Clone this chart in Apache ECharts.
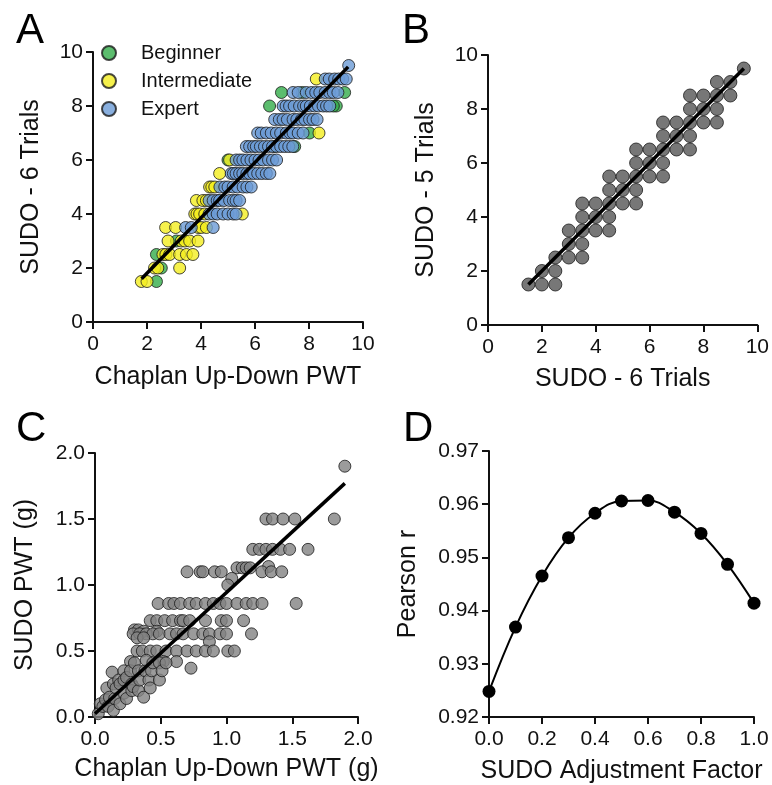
<!DOCTYPE html>
<html>
<head>
<meta charset="utf-8">
<script src="https://cdn.jsdelivr.net/npm/echarts@6/dist/echarts.min.js"></script>
<style>
html,body{margin:0;padding:0;background:#fff;}
#chart{width:772px;height:785px;}
</style>
</head>
<body>
<div id="chart"></div>
<script>
// ---------- Panel A data (Chaplan vs SUDO-6) ----------
const beginnerPoints = [
  [2.35,1.5],[2.53,2.0],[2.35,2.5],[3.09,3.0],[5.0,6.0],[7.47,6.5],[6.72,6.5],
  [8.02,7.0],[6.54,8.0],[9.01,8.0],[8.9,8.0],[6.98,8.5],[7.75,8.5],[9.32,8.5]
];
const intermediatePoints = [
  [1.79,1.5],[2.0,1.5],
  [2.28,2.0],[2.4,2.0],[3.21,2.0],
  [2.59,2.5],[2.7,2.5],[2.84,2.5],[3.21,2.5],[3.46,2.5],[3.7,2.5],
  [2.78,3.0],[3.27,3.0],[3.4,3.0],[3.58,3.0],[3.89,3.0],
  [2.69,3.5],[3.06,3.5],[3.9,3.5],[4.01,3.5],[4.2,3.5],
  [3.77,4.0],[3.85,4.0],[3.95,4.0],[4.14,4.0],[5.53,4.0],
  [3.83,4.5],[4.07,4.5],[4.2,4.5],
  [4.32,5.0],[4.4,5.0],[4.51,5.0],
  [4.69,5.5],
  [5.06,6.0],
  [8.37,7.0],
  [8.27,9.0]
];
const expertPoints = [
  [3.43,3.5],[3.64,3.5],[4.45,3.5],
  [4.3,4.0],[4.45,4.0],[4.6,4.0],[4.82,4.0],[5.0,4.0],[5.19,4.0],[5.3,4.0],
  [4.3,4.5],[4.45,4.5],[4.6,4.5],[4.69,4.5],[4.85,4.5],[5.06,4.5],[5.2,4.5],[5.3,4.5],[5.43,4.5],
  [4.7,5.0],[4.88,5.0],[5.0,5.0],[5.19,5.0],[5.35,5.0],[5.56,5.0],[5.7,5.0],[5.86,5.0],
  [5.12,5.5],[5.2,5.5],[5.3,5.5],[5.43,5.5],[5.55,5.5],[5.7,5.5],[5.8,5.5],[5.95,5.5],[6.1,5.5],[6.25,5.5],[6.42,5.5],[6.55,5.5],
  [5.3,6.0],[5.43,6.0],[5.55,6.0],[5.7,6.0],[5.85,6.0],[6.0,6.0],[6.15,6.0],[6.3,6.0],[6.5,6.0],[6.65,6.0],[6.8,6.0],
  [5.68,6.5],[5.8,6.5],[5.95,6.5],[6.05,6.5],[6.2,6.5],[6.35,6.5],[6.5,6.5],[6.65,6.5],[6.8,6.5],[6.95,6.5],[7.1,6.5],[7.25,6.5],[7.4,6.5],
  [6.1,7.0],[6.23,7.0],[6.42,7.0],[6.6,7.0],[6.79,7.0],[6.95,7.0],[7.16,7.0],[7.3,7.0],[7.41,7.0],[7.6,7.0],[7.78,7.0],
  [6.73,7.5],[6.9,7.5],[7.04,7.5],[7.2,7.5],[7.41,7.5],[7.55,7.5],[7.72,7.5],[7.85,7.5],[8.02,7.5],[8.15,7.5],[8.3,7.5],
  [7.04,8.0],[7.15,8.0],[7.28,8.0],[7.45,8.0],[7.65,8.0],[7.8,8.0],[7.9,8.0],[8.05,8.0],[8.21,8.0],[8.35,8.0],[8.52,8.0],[8.65,8.0],[8.77,8.0],
  [7.41,8.5],[7.6,8.5],[7.9,8.5],[8.09,8.5],[8.25,8.5],[8.4,8.5],[8.6,8.5],[8.77,8.5],[8.9,8.5],[9.07,8.5],
  [8.6,9.0],[8.75,9.0],[8.95,9.0],[9.1,9.0],[9.25,9.0],[9.38,9.0],
  [9.47,9.5]
];
const fitLineA = [[1.8,1.6],[9.45,9.45]];

// ---------- Panel B data (SUDO-6 vs SUDO-5) ----------
const pointsB = [
  [1.5,1.5],
  [2.0,2.0],[2.0,1.5],
  [2.5,2.5],[2.5,2.0],[2.5,1.5],
  [3.0,3.5],[3.0,3.0],[3.0,2.5],
  [3.5,4.5],[3.5,4.0],[3.5,3.5],[3.5,3.0],[3.5,2.5],
  [4.0,4.5],[4.0,4.0],[4.0,3.5],
  [4.5,5.5],[4.5,5.0],[4.5,4.5],[4.5,4.0],[4.5,3.5],
  [5.0,5.5],[5.0,5.0],[5.0,4.5],
  [5.5,6.5],[5.5,6.0],[5.5,5.5],[5.5,5.0],[5.5,4.5],
  [6.0,6.5],[6.0,6.0],[6.0,5.5],
  [6.5,7.5],[6.5,7.0],[6.5,6.5],[6.5,6.0],[6.5,5.5],
  [7.0,7.5],[7.0,7.0],[7.0,6.5],
  [7.5,8.5],[7.5,8.0],[7.5,7.5],[7.5,7.0],[7.5,6.5],
  [8.0,8.5],[8.0,8.0],[8.0,7.5],
  [8.5,9.0],[8.5,8.5],[8.5,8.0],[8.5,7.5],
  [9.0,9.0],[9.0,8.5],
  [9.5,9.5]
];
const fitLineB = [[1.5,1.5],[9.5,9.5]];

// ---------- Panel C data (grams) ----------
const pointsC = [
  [1.90,1.90],
  [1.30,1.50],[1.35,1.50],[1.43,1.50],[1.52,1.50],[1.82,1.50],
  [1.20,1.27],[1.25,1.27],[1.30,1.27],[1.35,1.27],[1.41,1.27],[1.48,1.27],[1.62,1.27],
  [1.08,1.13],[1.12,1.13],[1.15,1.13],[1.18,1.13],[1.32,1.14],
  [0.70,1.10],[0.80,1.10],[0.82,1.10],[0.91,1.10],[0.96,1.10],[1.27,1.10],[1.34,1.10],[1.42,1.10],
  [1.04,1.05],[1.01,1.00],
  [0.48,0.86],[0.56,0.86],[0.60,0.86],[0.65,0.86],[0.72,0.86],[0.77,0.86],[0.84,0.86],[0.90,0.86],[0.95,0.86],[1.00,0.86],[1.08,0.86],[1.15,0.86],[1.20,0.86],[1.27,0.86],[1.53,0.86],
  [0.42,0.73],[0.47,0.73],[0.53,0.73],[0.59,0.73],[0.65,0.73],[0.67,0.73],[0.72,0.73],[0.84,0.73],[0.96,0.73],[1.00,0.73],[1.13,0.73],
  [0.30,0.66],[0.33,0.66],[0.37,0.65],[0.47,0.65],
  [0.29,0.63],[0.34,0.63],[0.39,0.63],[0.44,0.63],[0.49,0.63],[0.57,0.63],[0.62,0.63],[0.67,0.63],[0.75,0.63],[0.82,0.63],[0.87,0.63],[0.95,0.63],[1.00,0.63],[1.19,0.63],
  [0.32,0.60],[0.37,0.60],[0.87,0.57],
  [0.32,0.50],[0.36,0.50],[0.42,0.50],[0.47,0.50],[0.54,0.50],[0.62,0.50],[0.70,0.50],[0.77,0.50],[0.84,0.50],[0.90,0.50],[1.01,0.50],[1.06,0.50],
  [0.27,0.42],[0.52,0.42],[0.62,0.42],[0.73,0.37],
  [0.025,0.025],[0.04,0.10],[0.06,0.08],[0.08,0.13],[0.09,0.22],[0.10,0.08],[0.11,0.15],[0.13,0.34],
  [0.14,0.05],[0.14,0.25],[0.15,0.14],[0.16,0.22],[0.18,0.28],[0.19,0.25],[0.19,0.10],[0.22,0.35],
  [0.22,0.18],[0.22,0.28],[0.24,0.30],[0.24,0.14],[0.27,0.35],[0.28,0.25],[0.28,0.20],[0.29,0.23],
  [0.30,0.41],[0.33,0.20],[0.33,0.35],[0.34,0.28],[0.37,0.15],[0.38,0.35],[0.39,0.43],[0.41,0.28],
  [0.42,0.22],[0.43,0.35],[0.44,0.41],[0.49,0.28],[0.49,0.41],[0.51,0.35],[0.54,0.41]
];
const fitLineC = [[0.0,0.025],[1.90,1.77]];

// ---------- Panel D data ----------
const adjFactor = [0.0,0.1,0.2,0.3,0.4,0.5,0.6,0.7,0.8,0.9,1.0];
const pearsonR = [0.9248,0.9369,0.9465,0.9537,0.9583,0.9606,0.9607,0.9585,0.9545,0.9487,0.9414];

// ---------- Styling ----------
const FONT = 'Liberation Sans';
const AXIS_COLOR = '#111';
function axis(gridIndex, min, max, interval, name, nameGap, labelMargin, fmt) {
  return {
    type: 'value', gridIndex, min, max, interval,
    name, nameLocation: 'middle', nameGap,
    nameTextStyle: { fontFamily: FONT, fontSize: 25, color: '#111' },
    axisLine: { show: true, onZero: false, lineStyle: { color: AXIS_COLOR, width: 2 } },
    axisTick: { show: true, inside: false, length: 7, lineStyle: { color: AXIS_COLOR, width: 2 } },
    axisLabel: { fontFamily: FONT, fontSize: 21, color: '#111', margin: labelMargin,
      formatter: fmt ? (v => fmt(v)) : undefined },
    splitLine: { show: false }
  };
}
const f1 = v => v.toFixed(1);
const f2 = v => v.toFixed(2);

const chart = echarts.init(document.getElementById('chart'), null, { renderer: 'canvas' });
const dotBorder = { borderColor: '#1a1a1a', borderWidth: 1 };
const letterStyle = { fontFamily: FONT, fontSize: 42, fontWeight: 'normal', color: '#000' };

chart.setOption({
  animation: false,
  backgroundColor: '#fff',
  title: [
    { text: 'A', left: 11, top: 5, textStyle: letterStyle },
    { text: 'B', left: 397, top: 5, textStyle: letterStyle },
    { text: 'C', left: 11, top: 403, textStyle: letterStyle },
    { text: 'D', left: 398, top: 403, textStyle: letterStyle }
  ],
  legend: {
    data: ['Beginner', 'Intermediate', 'Expert'],
    orient: 'vertical', left: 96, top: 38,
    icon: 'circle', itemWidth: 14, itemHeight: 14, itemGap: 8,
    textStyle: { fontFamily: FONT, fontSize: 20, color: '#111', padding: [0, 0, 0, 20], lineHeight: 20 }
  },
  grid: [
    { left: 93, top: 52, width: 270, height: 270 },
    { left: 488, top: 55, width: 270, height: 270 },
    { left: 95, top: 453, width: 263, height: 264 },
    { left: 489, top: 451, width: 265, height: 266 }
  ],
  xAxis: [
    axis(0, 0, 10, 2, 'Chaplan Up-Down PWT', 43, 12),
    axis(1, 0, 10, 2, 'SUDO - 6 Trials', 42, 12),
    axis(2, 0, 2, 0.5, 'Chaplan Up-Down PWT (g)', 40, 12, f1),
    axis(3, 0, 1, 0.2, 'SUDO Adjustment Factor', 42, 12, f1)
  ],
  yAxis: [
    axis(0, 0, 10, 2, 'SUDO - 6 Trials', 49, 10),
    axis(1, 0, 10, 2, 'SUDO - 5 Trials', 49, 10),
    axis(2, 0, 2, 0.5, 'SUDO PWT (g)', 57, 10, f1),
    axis(3, 0.92, 0.97, 0.01, 'Pearson r', 68, 10, f2)
  ],
  series: [
    { name: 'Beginner', type: 'scatter', xAxisIndex: 0, yAxisIndex: 0, symbolSize: 12,
      itemStyle: Object.assign({ color: '#33ad4a' }, dotBorder), data: beginnerPoints },
    { name: 'Intermediate', type: 'scatter', xAxisIndex: 0, yAxisIndex: 0, symbolSize: 12,
      itemStyle: Object.assign({ color: '#f4ee1f' }, dotBorder), data: intermediatePoints },
    { name: 'Expert', type: 'scatter', xAxisIndex: 0, yAxisIndex: 0, symbolSize: 12,
      itemStyle: Object.assign({ color: '#6b9bd6' }, dotBorder), data: expertPoints },
    { type: 'line', xAxisIndex: 0, yAxisIndex: 0, data: fitLineA, showSymbol: false, symbol: 'none',
      lineStyle: { color: '#000', width: 3.5 }, z: 5 },

    { type: 'scatter', xAxisIndex: 1, yAxisIndex: 1, symbolSize: 13,
      itemStyle: Object.assign({ color: '#555555' }, dotBorder), data: pointsB },
    { type: 'line', xAxisIndex: 1, yAxisIndex: 1, data: fitLineB, showSymbol: false, symbol: 'none',
      lineStyle: { color: '#000', width: 3.5 }, z: 5 },

    { type: 'scatter', xAxisIndex: 2, yAxisIndex: 2, symbolSize: 12,
      itemStyle: Object.assign({ color: '#828282' }, dotBorder), data: pointsC },
    { type: 'line', xAxisIndex: 2, yAxisIndex: 2, data: fitLineC, showSymbol: false, symbol: 'none',
      lineStyle: { color: '#000', width: 3.5 }, z: 5 },

    { type: 'line', xAxisIndex: 3, yAxisIndex: 3, smooth: 0.4,
      data: adjFactor.map((x, i) => [x, pearsonR[i]]),
      symbol: 'circle', symbolSize: 13, showSymbol: true,
      itemStyle: { color: '#000' }, lineStyle: { color: '#000', width: 2 } }
  ]
});
</script>
</body>
</html>
